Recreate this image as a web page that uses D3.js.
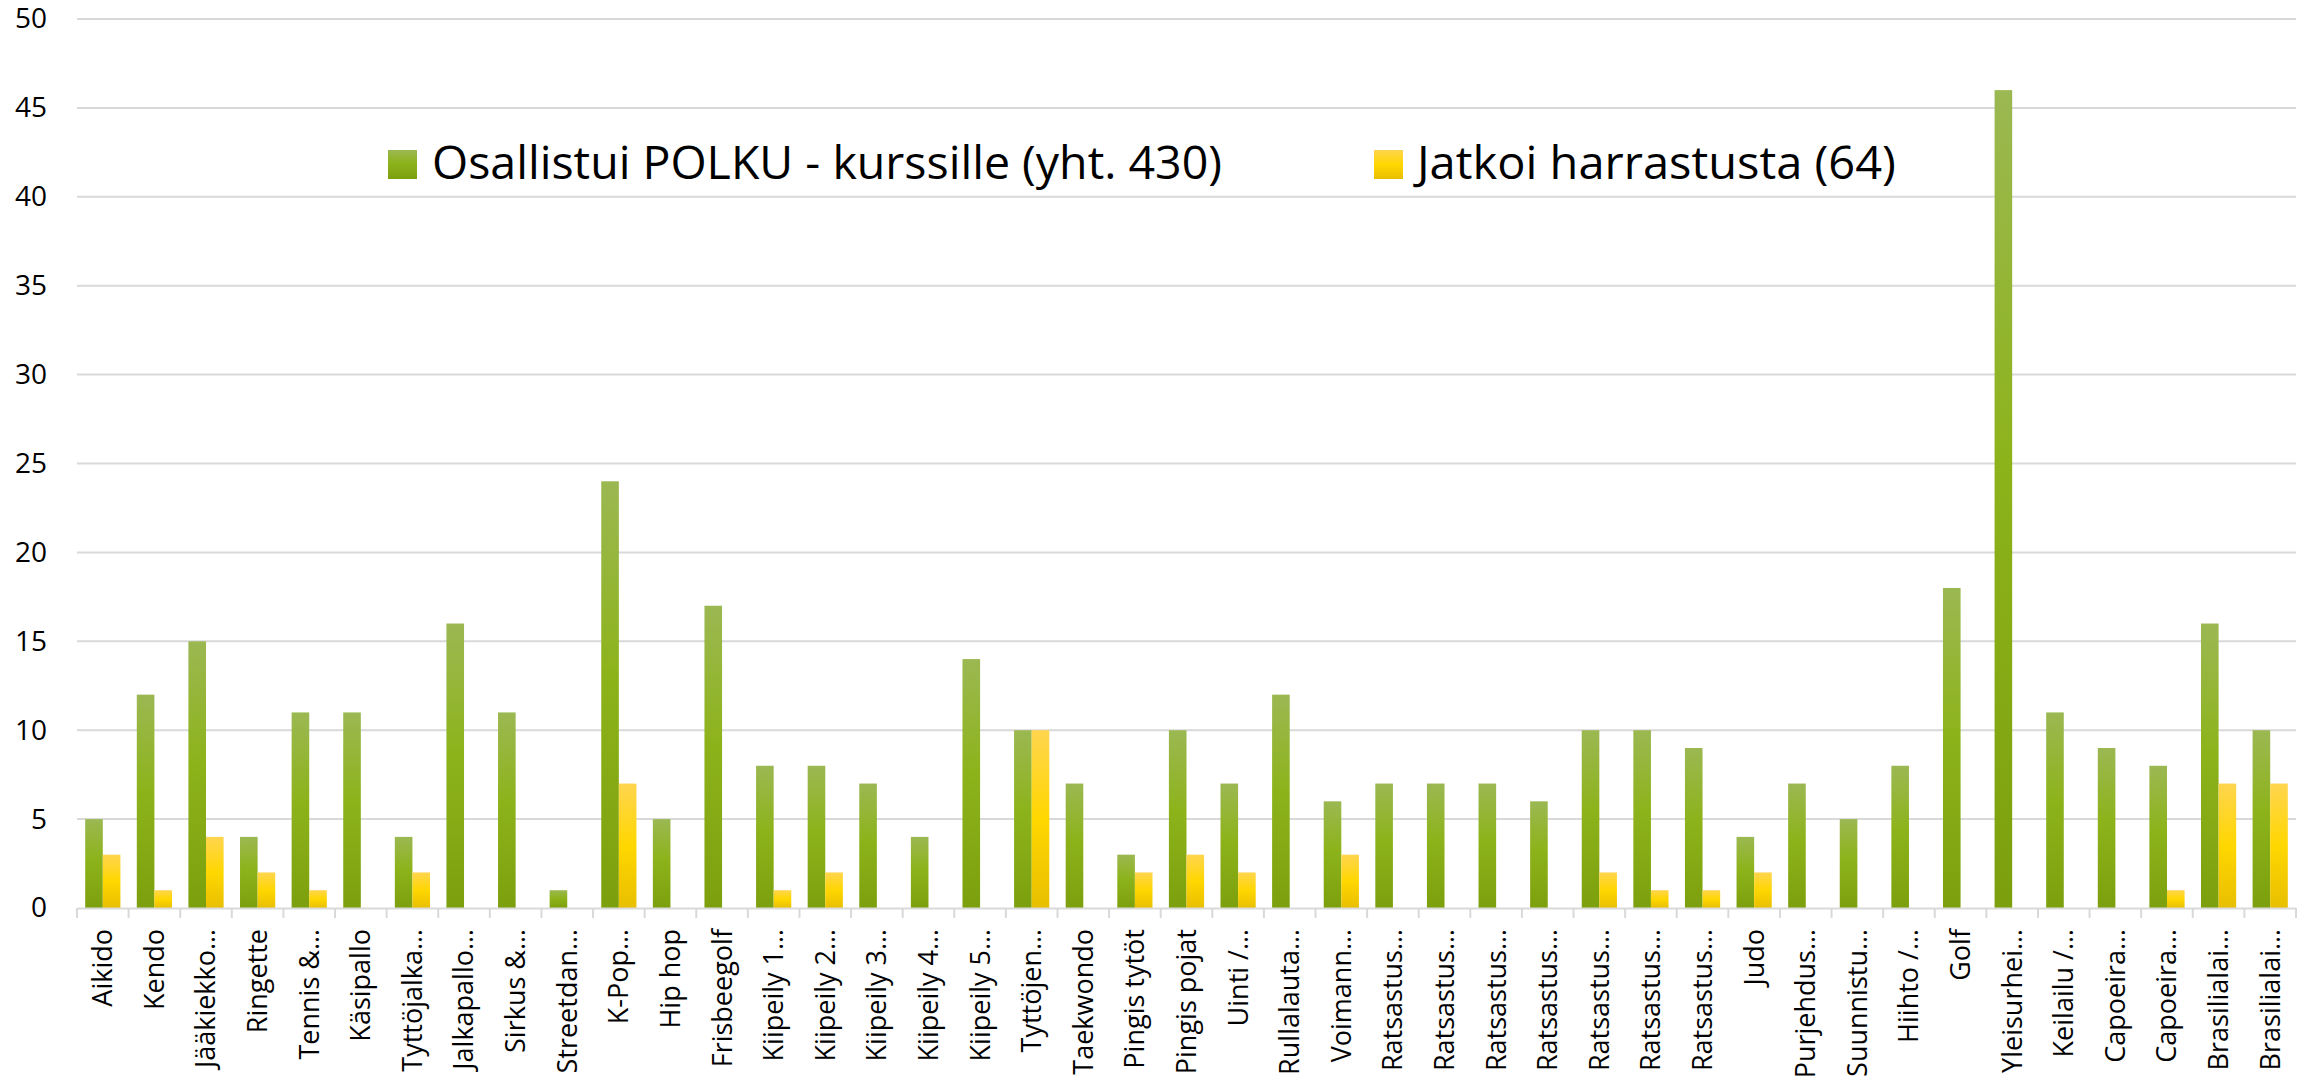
<!DOCTYPE html>
<html>
<head>
<meta charset="utf-8">
<script src="https://cdn.jsdelivr.net/npm/d3@7"></script>
<style>
  html, body { margin: 0; padding: 0; background: #fff; }
  svg { display: block; }
  text { font-family: "Open Sans", "Noto Sans", sans-serif; fill: #000; }
</style>
</head>
<body>
<svg id="chart" width="2308" height="1081"></svg>
<script>
const categories = [
  "Aikido", "Kendo", "Jääkiekko…", "Ringette", "Tennis &…", "Käsipallo",
  "Tyttöjalka…", "Jalkapallo…", "Sirkus &…", "Streetdan…", "K-Pop…", "Hip hop",
  "Frisbeegolf", "Kiipeily 1…", "Kiipeily 2…", "Kiipeily 3…", "Kiipeily 4…",
  "Kiipeily 5…", "Tyttöjen…", "Taekwondo", "Pingis tytöt", "Pingis pojat",
  "Uinti /…", "Rullalauta…", "Voimann…", "Ratsastus…", "Ratsastus…",
  "Ratsastus…", "Ratsastus…", "Ratsastus…", "Ratsastus…", "Ratsastus…",
  "Judo", "Purjehdus…", "Suunnistu…", "Hiihto /…", "Golf", "Yleisurhei…",
  "Keilailu /…", "Capoeira…", "Capoeira…", "Brasilialai…", "Brasilialai…"
];
const osallistui = [5,12,15,4,11,11,4,16,11,1,24,5,17,8,8,7,4,14,10,7,3,10,7,12,6,7,7,7,6,10,10,9,4,7,5,8,18,46,11,9,8,16,10];
const jatkoi     = [3,1,4,2,1,0,2,0,0,0,7,0,0,1,2,0,0,0,10,0,2,3,2,0,3,0,0,0,0,2,1,1,2,0,0,0,0,0,0,0,1,7,7];
const seriesNames = ["Osallistui POLKU - kurssille (yht. 430)", "Jatkoi harrastusta (64)"];
const yTicks = [0, 5, 10, 15, 20, 25, 30, 35, 40, 45, 50];

(function () {
const svg = d3.select("#chart");
const plotL = 77, plotR = 2296, plotT = 19, plotB = 908;

const defs = svg.append("defs");
const gradSpecs = [
  {id: "gGreen", stops: [[0, "#9bb852"], [0.45, "#8db31b"], [1, "#7ca00d"]]},
  {id: "gYellow", stops: [[0, "#ffd54f"], [0.5, "#ffd700"], [1, "#e8bf00"]]}
];
gradSpecs.forEach(g => {
  const lgr = defs.append("linearGradient").attr("id", g.id)
    .attr("x1", 0).attr("y1", 0).attr("x2", 0).attr("y2", 1);
  g.stops.forEach(s => lgr.append("stop").attr("offset", s[0]).attr("stop-color", s[1]));
});
const fills = ["url(#gGreen)", "url(#gYellow)"];

const idx = d3.range(categories.length);
const x0 = d3.scaleBand().domain(idx).range([plotL, plotR]).paddingInner(0).paddingOuter(0);
const x1 = d3.scaleBand().domain([0, 1]).range([0, x0.bandwidth()]).paddingInner(0).paddingOuter(0.466);
const y = d3.scaleLinear().domain([0, 50]).range([plotB, plotT]);

// gridlines
svg.append("g").selectAll("line").data(yTicks.filter(d => d > 0)).join("line")
  .attr("x1", plotL).attr("x2", plotR)
  .attr("y1", d => y(d)).attr("y2", d => y(d))
  .attr("stroke", "#d9d9d9").attr("stroke-width", 2);

// y axis labels
const yAxis = d3.axisLeft(y).tickValues(yTicks).tickSize(0).tickPadding(0);
const yg = svg.append("g").attr("transform", `translate(47,0)`).call(yAxis);
yg.select(".domain").remove();
yg.selectAll("text").attr("font-size", 28).attr("font-family", "Open Sans").attr("fill", "#000");

// bars
const values = [osallistui, jatkoi];
const groups = svg.append("g").selectAll("g").data(idx).join("g")
  .attr("transform", i => `translate(${x0(i)},0)`);
groups.selectAll("rect").data(i => [0, 1].map(s => ({s, v: values[s][i]}))).join("rect")
  .attr("x", d => x1(d.s))
  .attr("width", x1.bandwidth())
  .attr("y", d => y(d.v))
  .attr("height", d => y(0) - y(d.v))
  .attr("fill", d => fills[d.s]);

// x axis
const xAxis = d3.axisBottom(x0).tickSize(0).tickFormat((d) => categories[d]);
const xg = svg.append("g").attr("transform", `translate(0,${plotB})`).call(xAxis);
xg.select(".domain").attr("stroke", "#d9d9d9").attr("stroke-width", 2);
xg.selectAll(".tick text")
  .attr("font-size", 27).attr("font-family", "Open Sans").attr("fill", "#000")
  .attr("text-anchor", "end")
  .attr("transform", "translate(0,21) rotate(-90)")
  .attr("x", 0).attr("y", 0).attr("dy", "0.35em");
// tick marks at band boundaries
const bounds = idx.map(i => x0(i)).concat([plotR]);
svg.append("g").selectAll("line").data(bounds).join("line")
  .attr("x1", d => d).attr("x2", d => d)
  .attr("y1", plotB).attr("y2", plotB + 10)
  .attr("stroke", "#d9d9d9").attr("stroke-width", 2);

// legend
const legendItems = [
  {sq: 388, tx: 432, len: 790},
  {sq: 1374, tx: 1417, len: 479}
];
const lg = svg.append("g");
legendItems.forEach((L, k) => {
  lg.append("rect").attr("x", L.sq).attr("y", 150).attr("width", 29).attr("height", 29)
    .attr("fill", fills[k]);
  lg.append("text").attr("x", L.tx).attr("y", 179)
    .attr("font-size", 46).attr("font-family", "Open Sans")
    .attr("textLength", L.len).attr("lengthAdjust", "spacingAndGlyphs")
    .text(seriesNames[k]);
});
})();
</script>
</body>
</html>
